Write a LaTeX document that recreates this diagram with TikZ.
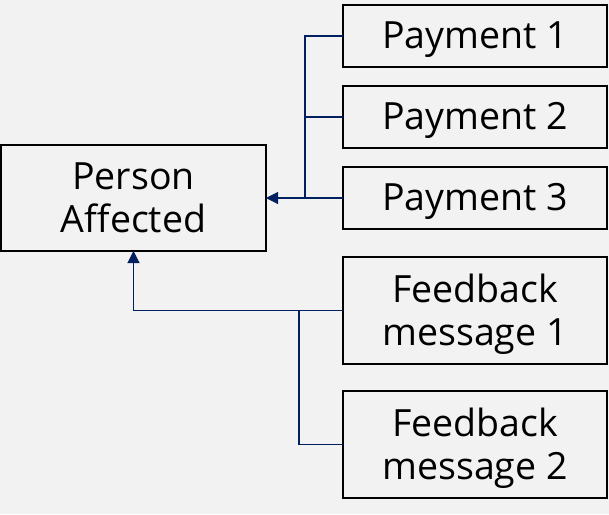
\documentclass[tikz,border=0pt]{standalone}
\usepackage{fontspec}
\setmainfont{Open Sans}
\usepackage{xcolor}
\usetikzlibrary{positioning,arrows.meta,calc}
\definecolor{pagegray}{HTML}{F2F2F2}
\definecolor{linknavy}{HTML}{002060}

\begin{document}
\begin{tikzpicture}[
    x=1pt, y=1pt,
    node distance=19pt,
    box/.style={draw, line width=2.4pt, fill=pagegray, minimum width=264pt,
                align=center, inner sep=0pt, outer sep=0pt,
                font=\fontsize{37.5}{43}\selectfont},
    paybox/.style={box, minimum height=62pt, text depth=2.5pt},
    fbbox/.style={box, minimum height=107pt, text depth=2.5pt},
    personbox/.style={box, minimum width=265pt, minimum height=106pt},
    link/.style={draw=linknavy, line width=1.1pt},
    arr/.style={link, -{Triangle[length=12pt, width=12pt]}},
  ]
  % page and margins
  \fill[pagegray] (0,0) rectangle (609,-514);
  \useasboundingbox (0,0) rectangle (609,-514);

  % payments (RIGHT column, stacked)
  \node[paybox]                       (pay1) at (475,-36) {Payment 1};
  \node[paybox, below=of pay1]        (pay2) {Payment 2};
  \node[paybox, below=of pay2]        (pay3) {Payment 3};
  % feedback messages below the payments
  \node[fbbox, below=28pt of pay3]    (fb1)  {Feedback\\message 1};
  \node[fbbox, below=27pt of fb1]     (fb2)  {Feedback\\message 2};
  % person (LEFT, level with Payment 3)
  \node[personbox] (person) at (pay3 -| 133.5,0) {Person\\Affected};

  % junctions
  \coordinate (jpay) at ($(pay3.west)+(-38,0)$);
  \coordinate (jfb)  at ($(fb1.west)+(-44,0)$);

  % arrows -- payments join on one trunk
  \draw[link] (pay1.west) -| (jpay);
  \draw[link] (pay2.west) -- (pay2.west -| jpay);
  \draw[arr]  (pay3.west) -- (jpay) -- (person.east);
  % feedback goes up into the person box
  \draw[arr]  (fb1.west) -| (person.south);
  \draw[link] (fb2.west) -| (jfb);
\end{tikzpicture}
\end{document}
